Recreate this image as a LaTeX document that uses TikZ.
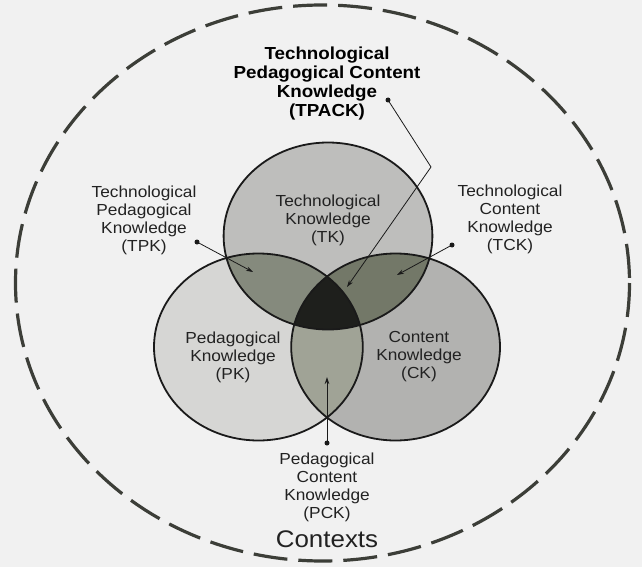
\documentclass[tikz,border=0pt]{standalone}
\usepackage{fontspec}
\setmainfont{Liberation Sans}[FakeStretch=1.08]
\usetikzlibrary{arrows.meta}
\definecolor{bgc}{HTML}{F1F1F1}
\definecolor{pkc}{HTML}{D6D6D4}
\definecolor{tkc}{HTML}{BEBEBC}
\definecolor{ckc}{HTML}{B2B2B0}
\definecolor{tpkc}{HTML}{858A7D}
\definecolor{tckc}{HTML}{737868}
\definecolor{pckc}{HTML}{A0A396}
\definecolor{midc}{HTML}{1E1F1C}
\definecolor{linec}{HTML}{1A1A1A}
\definecolor{dashc}{HTML}{3C3E38}
\definecolor{txtc}{HTML}{222222}
\tikzset{
  lbl/.style={align=center, text=txtc, inner sep=0pt, font=\fontsize{16}{18}\selectfont},
  boldlbl/.style={align=center, text=black, inner sep=0pt, font=\fontsize{17.4}{19}\selectfont\bfseries},
  ctxlbl/.style={text=txtc, inner sep=0pt, font=\fontsize{24}{26}\selectfont},
  ring/.style={draw=linec, line width=1.8pt},
  outerring/.style={draw=dashc, line width=3.2pt, dash pattern=on 34pt off 11pt},
  leader/.style={draw=linec, line width=0.8pt},
  arrowline/.style={leader, -{Stealth[length=7pt,width=4.5pt]}},
  knot/.style={circle, fill=linec, inner sep=0pt, minimum size=5pt}
}
\def\Tpath{(328,236) ellipse [x radius=104.4, y radius=93.5]}
\def\Ppath{(258.4,347) ellipse [x radius=104.4, y radius=93.5]}
\def\Cpath{(395.6,347) ellipse [x radius=104.4, y radius=93.5]}
\begin{document}
\begin{tikzpicture}[x=1pt,y=-1pt]
\useasboundingbox (0,0) rectangle (642,567);
\fill[bgc] (0,0) rectangle (642,567);
% outer context ring
\path[outerring] (322.5,283) ellipse [x radius=307, y radius=278];
% circle fills
\fill[pkc] \Ppath;
\fill[tkc] \Tpath;
\fill[ckc] \Cpath;
% lens fills
\begin{scope}\clip \Tpath; \fill[tpkc] \Ppath; \end{scope}
\begin{scope}\clip \Tpath; \fill[tckc] \Cpath; \end{scope}
\begin{scope}\clip \Ppath; \fill[pckc] \Cpath; \end{scope}
\begin{scope}\clip \Tpath; \clip \Ppath; \fill[midc] \Cpath; \end{scope}
% outlines
\path[ring] \Ppath;
\path[ring] \Tpath;
\path[ring] \Cpath;
% region labels
\node[lbl] (tk) at (328,220) {Technological\\Knowledge\\(TK)};
\node[lbl] (pk) at (233,357) {Pedagogical\\Knowledge\\(PK)};
\node[lbl] (ck) at (419,357) {Content\\Knowledge\\(CK)};
% outside labels
\node[boldlbl] (tpacklbl) at (327,84) {Technological\\Pedagogical Content\\Knowledge\\(TPACK)};
\node[lbl] (tpklbl) at (144,220) {Technological\\Pedagogical\\Knowledge\\(TPK)};
\node[lbl] (tcklbl) at (510,219) {Technological\\Content\\Knowledge\\(TCK)};
\node[lbl] (pcklbl) at (327,487) {Pedagogical\\Content\\Knowledge\\(PCK)};
\node[ctxlbl] (ctx) at (327,539) {Contexts};
% leader dots and tips
\node[knot] (tpackdot) at (388,100) {};
\node[knot] (tpkdot) at (197,242) {};
\node[knot] (tckdot) at (452,245) {};
\node[knot] (pckdot) at (327,443) {};
\coordinate (tpackbend) at (431,167);
\coordinate (tpacktip) at (347,287);
\coordinate (tpktip) at (253,272);
\coordinate (tcktip) at (397,275);
\coordinate (pcktip) at (327,377);
% connectors
\draw[arrowline] (tpackdot.center) -- (tpackbend) -- (tpacktip);
\draw[arrowline] (tpkdot.center) -- (tpktip);
\draw[arrowline] (tckdot.center) -- (tcktip);
\draw[arrowline] (pckdot.center) -- (pcktip);
\end{tikzpicture}
\end{document}
